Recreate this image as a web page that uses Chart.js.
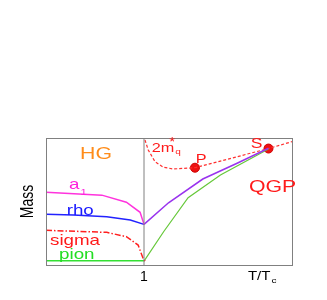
<!DOCTYPE html>
<html><head><meta charset="utf-8">
<script src="https://cdn.jsdelivr.net/npm/chart.js@4"></script>
<style>html,body{margin:0;padding:0;background:#fff}#wrap{width:327px;height:300px}</style>
</head><body><div id="wrap"><canvas id="c" width="327" height="300"></canvas></div>
<script>
// Schematic data (x = T/Tc, y = Mass, arbitrary units)
const a1X = [0, 0.57, 0.82, 0.96, 1.0];
const a1Y = [0.572, 0.55, 0.494, 0.415, 0.32];
const rhoX = [0, 0.28, 0.62, 0.86, 1.0];
const rhoY = [0.399, 0.394, 0.38, 0.354, 0.32];
const sigmaX = [0, 0.62, 0.82, 0.94, 0.99, 1.01];
const sigmaY = [0.273, 0.257, 0.223, 0.157, 0.053, 0.03];
const pionX = [0, 1.0];
const pionY = [0.034, 0.034];
const vecQgpX = [1.0, 1.25, 1.6, 1.95, 2.27];
const vecQgpY = [0.32, 0.49, 0.677, 0.801, 0.919];
const pionQgpX = [1.0, 1.2, 1.45, 1.78, 2.27];
const pionQgpY = [0.031, 0.262, 0.53, 0.709, 0.913];
const quarkX = [1.01, 1.043, 1.112, 1.197, 1.299, 1.52, 2.27, 2.51];
const quarkY = [0.984, 0.906, 0.814, 0.770, 0.756, 0.766, 0.917, 0.971];
const pointNames = ['P', 'S'];
const pointX = [1.52, 2.27];
const pointY = [0.766, 0.917];
const tcX = [1, 1];
const tcY = [0, 1];
const xTicks = [1];

const zip = (xs, ys) => xs.map((x, i) => ({x, y: ys[i]}));
const FONT = 'Liberation Sans, Arial, sans-serif';
const SX = 1.25; // horizontal stretch of the lettering

function line(data, color, extra) {
  return Object.assign({type: 'line', data, borderColor: color, backgroundColor: color,
    borderWidth: 1.5, pointRadius: 0, tension: 0, fill: false}, extra || {});
}

const labelsPlugin = {
  id: 'labels',
  afterDatasetsDraw(chart) {
    const {ctx, chartArea: a, scales: {x, y}} = chart;
    ctx.save();
    ctx.strokeStyle = '#808080';
    ctx.lineWidth = 1;
    ctx.strokeRect(a.left + 0.5, a.top + 0.5, a.right - a.left, a.bottom - a.top);
    // draws stretched text at pixel position, returns its right edge
    function tp(txt, px, py, color, size, align) {
      ctx.save();
      ctx.fillStyle = color;
      ctx.font = size + 'px ' + FONT;
      ctx.textBaseline = 'alphabetic';
      const w = ctx.measureText(txt).width * SX;
      let left = px;
      if (align === 'center') left = px - w / 2;
      ctx.translate(left, py);
      ctx.scale(SX, 1);
      ctx.textAlign = 'left';
      ctx.fillText(txt, 0, 0);
      ctx.restore();
      return left + w;
    }
    function t(txt, dx, dy, color, size, align) {
      return tp(txt, x.getPixelForValue(dx), y.getPixelForValue(dy), color, size, align);
    }
    t('HG', 0.51, 0.832, '#ff8c1a', 17, 'center');
    let r = t('a', 0.235, 0.598, '#ff22dd', 15);
    tp('1', r + 1, y.getPixelForValue(0.598) + 6, '#ff22dd', 9);
    t('rho', 0.211, 0.394, '#1a1aff', 15);
    t('sigma', 0.041, 0.157, '#ff1a1a', 15);
    t('pion', 0.133, 0.047, '#22dd22', 15);
    r = t('2m', 1.079, 0.892, '#ff1a1a', 13);
    const by = y.getPixelForValue(0.892);
    tp('*', r - 5, by - 6, '#ff1a1a', 12);
    tp('q', r + 1, by + 2, '#ff1a1a', 8);
    t('P', 1.528, 0.801, '#ff1a1a', 13);
    t('S', 2.089, 0.919, '#ff1a1a', 14);
    t('QGP', 2.071, 0.572, '#ff1a1a', 17);
    r = tp('T/T', x.getPixelForValue(2.06), 280, '#000', 12);
    tp('c', r + 1, 283, '#000', 8);
    // y axis title
    ctx.save();
    ctx.translate(28, y.getPixelForValue(0.5));
    ctx.scale(SX, 1);
    ctx.rotate(-Math.PI / 2);
    ctx.fillStyle = '#000';
    ctx.font = '14px ' + FONT;
    ctx.textAlign = 'center';
    ctx.textBaseline = 'middle';
    ctx.fillText('Mass', 0, 0);
    ctx.restore();
    ctx.restore();
  }
};

new Chart(document.getElementById('c'), {
  type: 'scatter',
  data: {datasets: [
    line(zip(tcX, tcY), '#808080', {borderWidth: 1}),
    line(zip(a1X, a1Y), '#ff33dd'),
    line(zip(rhoX, rhoY), '#2222ff'),
    line(zip(sigmaX, sigmaY), '#ff2020', {borderDash: [6, 2, 1.5, 2]}),
    line(zip(pionX, pionY), '#33e033'),
    line(zip(vecQgpX, vecQgpY), '#9933ee'),
    line(zip(pionQgpX, pionQgpY), '#66c83a', {borderWidth: 1.2}),
    line(zip(quarkX, quarkY), '#ff3030', {borderDash: [3, 2], borderWidth: 1.2}),
    {type: 'scatter', data: zip(pointX, pointY), pointRadius: 4.5, pointBackgroundColor: '#ee1111',
     pointBorderColor: '#cc0000', pointBorderWidth: 1}
  ]},
  options: {
    responsive: false, animation: false, events: [],
    layout: {padding: {left: 0, top: 138, right: 35, bottom: 0}},
    plugins: {legend: {display: false}, tooltip: {enabled: false}},
    scales: {
      x: {type: 'linear', min: 0, max: 2.51,
          afterFit: s => { s.height = 35; },
          afterBuildTicks: s => { s.ticks = xTicks.map(v => ({value: v})); },
          grid: {display: false, drawTicks: false},
          border: {display: false},
          ticks: {color: '#000', font: {size: 14, family: FONT}, padding: 4}},
      y: {type: 'linear', min: 0, max: 1,
          afterFit: s => { s.width = 46; },
          grid: {display: false, drawTicks: false},
          border: {display: false},
          ticks: {display: false}}
    }
  },
  plugins: [labelsPlugin]
});
</script></body></html>
